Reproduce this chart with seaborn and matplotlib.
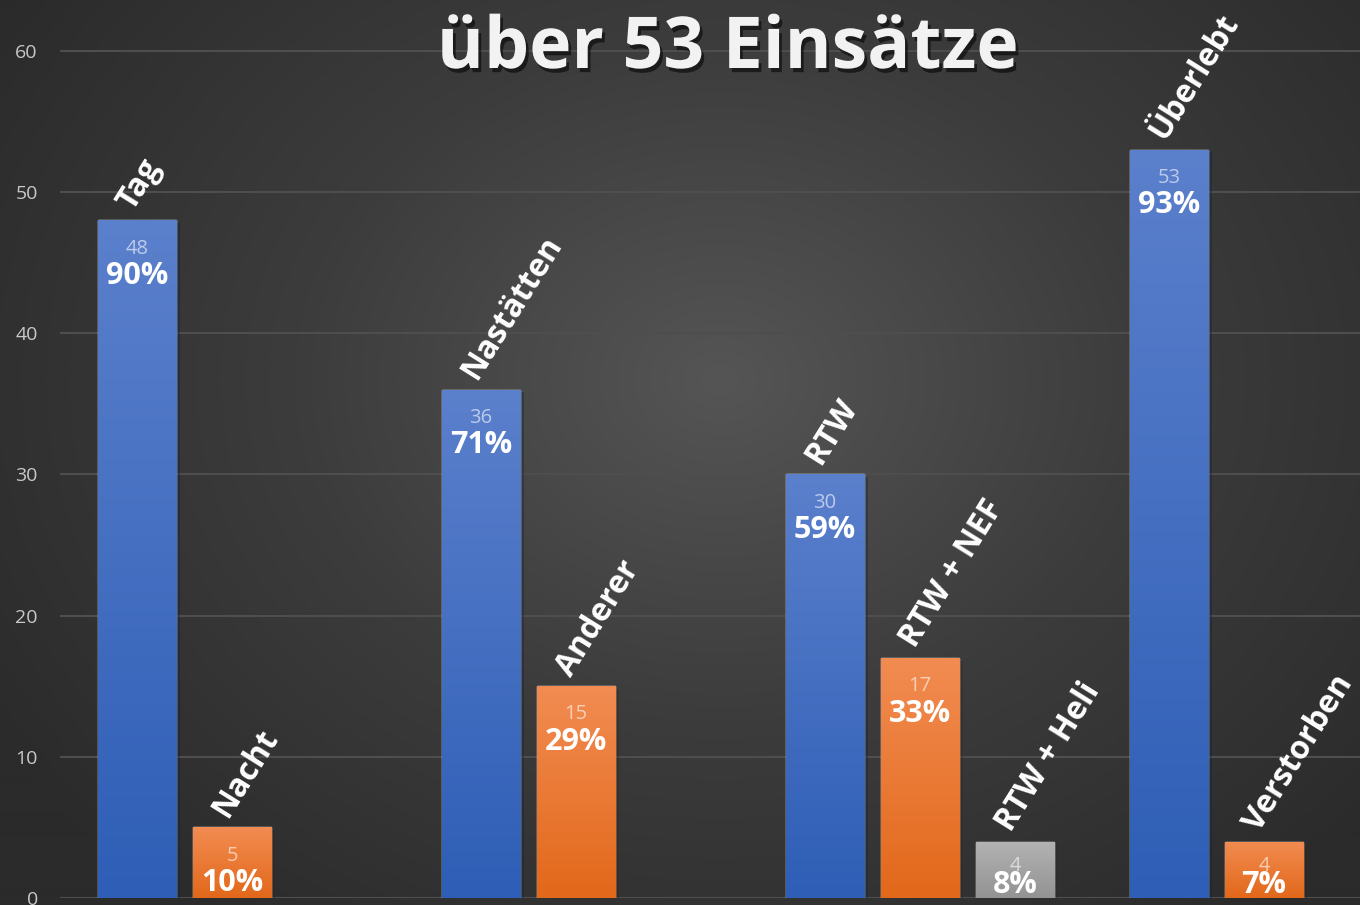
import numpy as np
import pandas as pd
import matplotlib
matplotlib.use('Agg')
import matplotlib.pyplot as plt
import matplotlib.patheffects as pe
from matplotlib.colors import LinearSegmentedColormap
import seaborn as sns

# Daten
gruppen = ["Zeit", "Ort", "Rettungsmittel", "Ausgang"]
serien = ["A", "B", "C"]
werte_a = [48, 36, 30, 53]
werte_b = [5, 15, 17, 4]
werte_c = [0, 0, 4, 0]
namen_a = ["Tag", "Nastätten", "RTW", "Überlebt"]
namen_b = ["Nacht", "Anderer", "RTW + NEF", "Verstorben"]
namen_c = ["", "", "RTW + Heli", ""]
prozent_a = ["90%", "71%", "59%", "93%"]
prozent_b = ["10%", "29%", "33%", "7%"]
prozent_c = ["", "", "8%", ""]
titel = "über 53 Einsätze"
y_ticks = [0, 10, 20, 30, 40, 50, 60]

farben = {"A": ("#5b80cc", "#2e5eb6"),
          "B": ("#f28c52", "#e2681a"),
          "C": ("#b3b3b3", "#939393")}

df = pd.DataFrame({
    "Gruppe": gruppen * 3,
    "Serie": [s for s in serien for _ in gruppen],
    "Wert": werte_a + werte_b + werte_c,
})
namen = [namen_a, namen_b, namen_c]
prozente = [prozent_a, prozent_b, prozent_c]

sns.set_theme(style="dark")
plt.rcParams['font.family'] = ['Open Sans', 'DejaVu Sans']

fig = plt.figure(figsize=(13.6, 9.05), dpi=100)

# Hintergrund mit radialem Verlauf
bg = fig.add_axes([0, 0, 1, 1], zorder=-10)
yy, xx = np.mgrid[0:905, 0:1360]
r = np.sqrt(((xx - 720) / 1000.0) ** 2 + ((yy - 380) / 800.0) ** 2)
r = np.clip(r / 0.85, 0, 1)
bg_cmap = LinearSegmentedColormap.from_list("bg", ["#555555", "#3c3c3c", "#2b2b2b"])
bg.imshow(r, cmap=bg_cmap, aspect='auto', extent=[0, 1, 0, 1], origin='upper')
bg.axis('off')

ax = fig.add_axes([60 / 1360, 7 / 905, 1300 / 1360, 898 / 905])
ax.set_facecolor('none')

sns.barplot(data=df, x="Gruppe", y="Wert", hue="Serie", order=gruppen, hue_order=serien,
            palette={k: v[1] for k, v in farben.items()}, width=0.83, gap=0.18,
            saturation=1, legend=False, ax=ax, zorder=3)

# Farbverlauf in den Balken + Beschriftungen
for i, cont in enumerate(ax.containers):
    oben, unten = farben[serien[i]]
    cmap = LinearSegmentedColormap.from_list("g%d" % i, [unten, oben])
    grad = np.linspace(0, 1, 256).reshape(-1, 1)
    for j, bar in enumerate(cont):
        h = bar.get_height()
        if h <= 0:
            bar.set_visible(False)
            continue
        x0 = bar.get_x()
        w = bar.get_width()
        bar.set_path_effects([pe.SimplePatchShadow(offset=(3, -2), alpha=0.35), pe.Normal()])
        im = ax.imshow(grad, cmap=cmap, aspect='auto', origin='lower',
                       extent=[x0, x0 + w, 0, h], zorder=4)
        im.set_clip_path(bar)
        xc = x0 + w / 2
        ax.text(xc, max(h - 2.0, 2.25), f"{h:.0f}", ha='center', va='center', fontsize=14.5,
                color='white', alpha=0.6, zorder=6, clip_on=True)
        ax.text(xc, max(h - 3.95, 0.95), prozente[i][j], ha='center', va='center', fontsize=22,
                fontweight='bold', color='white', zorder=6, clip_on=True)
        ax.text(x0 + 0.1, h + 0.6, namen[i][j], ha='left', va='baseline', rotation=58,
                rotation_mode='anchor', fontsize=23, fontweight='bold', color='white', zorder=6)

ax.set_xlim(-0.5, 3.279)
ax.set_ylim(0, 63.6)
ax.set_yticks(y_ticks)
ax.set_xticks([])
ax.set_xlabel("")
ax.set_ylabel("")
ax.tick_params(axis='y', length=0, pad=16, labelsize=14, labelcolor='#c8c8c8')
ax.grid(axis='y', color='#4e4e4e', linewidth=1.5, zorder=0)
ax.grid(axis='x', visible=False)
sns.despine(ax=ax, left=True, bottom=True, top=True, right=True)

fig.text(728 / 1360, 1 - 49 / 905, titel, ha='center', va='center', fontsize=51.5,
         fontweight='bold', color='#f2f2f2',
         path_effects=[pe.withSimplePatchShadow(offset=(2, -3), shadow_rgbFace='black', alpha=0.55)])

fig.savefig("out.png", dpi=100)
